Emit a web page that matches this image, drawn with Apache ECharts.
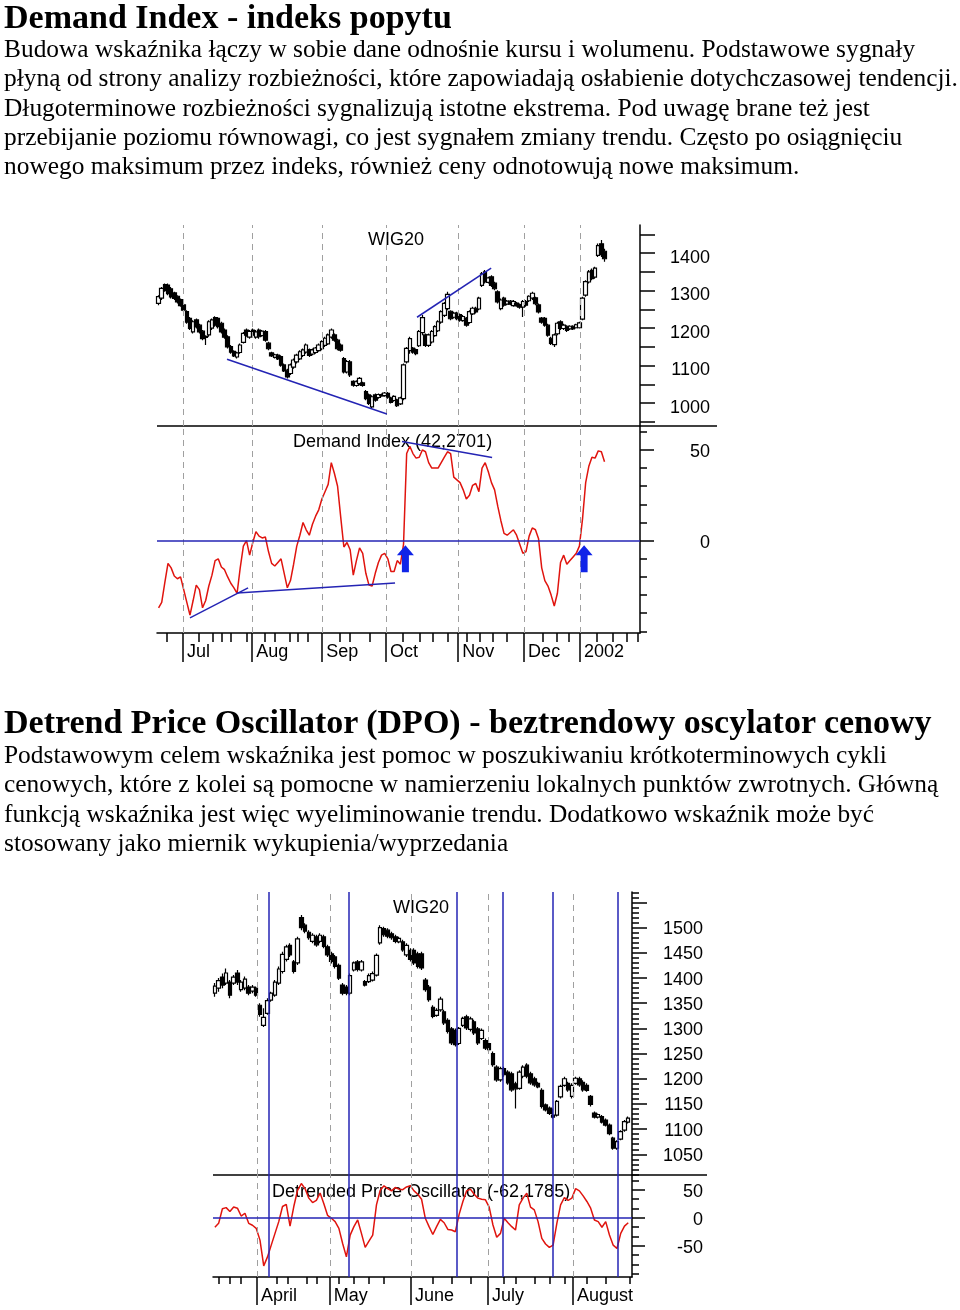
<!DOCTYPE html>
<html><head><meta charset="utf-8">
<script src="https://cdn.jsdelivr.net/npm/echarts@6/dist/echarts.min.js"></script>
<style>
html,body{margin:0;padding:0;background:#fff;}
#wrap{position:relative;width:960px;height:1310px;overflow:hidden;}
#chart{position:absolute;left:0;top:0;width:960px;height:1310px;z-index:1;}
.t{position:absolute;left:4px;font-family:"Liberation Serif","Times New Roman",serif;color:#000;white-space:nowrap;z-index:2;pointer-events:none;}
.h{font-size:34px;font-weight:bold;line-height:36px;}
.p{font-size:25.4px;line-height:29.25px;}
</style></head>
<body><div id="wrap">
<div id="chart"></div>
<div class="t h" style="top:-1px">Demand Index - indeks popytu</div>
<div class="t p" style="top:34px">Budowa wskaźnika łączy w sobie dane odnośnie kursu i wolumenu. Podstawowe sygnały<br>płyną od strony analizy rozbieżności, które zapowiadają osłabienie dotychczasowej tendencji.<br>Długoterminowe rozbieżności sygnalizują istotne ekstrema. Pod uwagę brane też jest<br>przebijanie poziomu równowagi, co jest sygnałem zmiany trendu. Często po osiągnięciu<br>nowego maksimum przez indeks, również ceny odnotowują nowe maksimum.</div>
<div class="t h" style="top:704px">Detrend Price Oscillator (DPO) - beztrendowy oscylator cenowy</div>
<div class="t p" style="top:740px">Podstawowym celem wskaźnika jest pomoc w poszukiwaniu krótkoterminowych cykli<br>cenowych, które z kolei są pomocne w namierzeniu lokalnych punktów zwrotnych. Główną<br>funkcją wskaźnika jest więc wyeliminowanie trendu. Dodatkowo wskaźnik może być<br>stosowany jako miernik wykupienia/wyprzedania</div>
</div>
<script>
// ---------- Chart 1: WIG20 + Demand Index (Jun 2001 - Jan 2002) ----------
// rows: [open, close, low, high]
const wig1 = [
[1266,1284,1261,1288],[1280,1306,1275,1310],[1316,1300,1297,1319],[1315,1292,1288,1319],[1305,1283,1279,1310],
[1294,1279,1275,1297],[1285,1270,1266,1288],[1276,1260,1257,1279],[1262,1248,1244,1266],[1244,1216,1212,1248],
[1226,1199,1195,1230],[1190,1217,1186,1221],[1222,1203,1199,1226],[1208,1190,1186,1212],[1192,1172,1168,1195],
[1178,1175,1155,1181],[1182,1217,1177,1221],[1200,1222,1195,1226],[1228,1208,1204,1232],[1226,1204,1199,1230],
[1213,1190,1186,1217],[1195,1176,1172,1199],[1177,1150,1146,1181],[1151,1136,1132,1155],[1138,1126,1123,1141],
[1123,1134,1119,1137],[1135,1155,1132,1159],[1162,1186,1159,1190],[1195,1181,1177,1199],[1176,1191,1172,1195],
[1195,1181,1177,1199],[1176,1190,1172,1195],[1195,1177,1172,1199],[1180,1192,1177,1195],[1191,1168,1164,1195],
[1160,1145,1141,1164],[1134,1126,1123,1137],[1122,1129,1119,1132],[1128,1118,1115,1132],[1124,1101,1097,1128],
[1102,1086,1083,1106],[1088,1070,1066,1092],[1079,1102,1075,1106],[1096,1115,1092,1119],[1110,1128,1106,1132],
[1118,1137,1115,1141],[1127,1142,1123,1146],[1136,1155,1132,1159],[1143,1127,1123,1146],[1131,1142,1128,1146],
[1135,1147,1132,1150],[1140,1155,1137,1159],[1145,1164,1141,1168],[1154,1173,1150,1177],[1158,1182,1155,1186],
[1176,1195,1172,1199],[1182,1168,1164,1186],[1168,1145,1141,1172],[1155,1141,1137,1159],[1119,1083,1079,1123],
[1083,1111,1079,1115],[1110,1075,1070,1115],[1058,1048,1044,1061],[1047,1057,1044,1061],[1052,1066,1048,1070],
[1054,1047,1044,1057],[1031,1012,1008,1035],[1022,999,995,1026],[990,1017,986,1021],[1022,1008,1004,1026],
[1015,1023,1012,1026],[1023,1019,1017,1026],[1020,1027,1017,1030],[1026,1016,1012,1030],[1014,1002,999,1017],
[1007,1018,1004,1021],[1009,993,990,1012],[998,1014,995,1017],[1012,1102,1008,1106],[1110,1146,1106,1150],
[1140,1172,1132,1177],[1147,1136,1132,1150],[1143,1132,1128,1146],[1153,1191,1150,1195],[1188,1228,1181,1235],
[1182,1154,1150,1186],[1154,1182,1150,1186],[1163,1191,1159,1195],[1180,1204,1177,1208],[1193,1217,1190,1221],
[1216,1244,1212,1248],[1234,1266,1230,1270],[1252,1290,1248,1297],[1245,1225,1221,1248],[1229,1240,1226,1244],
[1240,1225,1221,1244],[1236,1221,1217,1239],[1220,1231,1217,1235],[1227,1208,1204,1230],[1215,1244,1212,1248],
[1238,1253,1235,1257],[1253,1243,1239,1257],[1251,1280,1248,1284],[1314,1345,1310,1350],[1350,1323,1319,1355],
[1322,1334,1319,1337],[1337,1314,1310,1341],[1320,1305,1301,1324],[1297,1270,1266,1301],[1252,1275,1248,1279],
[1280,1261,1257,1284],[1264,1272,1261,1275],[1272,1264,1261,1275],[1260,1271,1257,1275],[1267,1260,1257,1270],
[1263,1256,1252,1266],[1256,1271,1230,1275],[1271,1261,1257,1275],[1273,1285,1270,1288],[1280,1293,1275,1297],
[1281,1265,1261,1284],[1262,1243,1239,1266],[1227,1216,1212,1230],[1226,1208,1204,1230],[1208,1181,1177,1212],
[1173,1159,1155,1177],[1156,1182,1150,1186],[1185,1213,1181,1217],[1217,1199,1195,1221],[1199,1208,1195,1212],
[1205,1194,1190,1208],[1198,1205,1195,1208],[1205,1198,1195,1208],[1201,1209,1199,1212],[1201,1214,1199,1217],
[1224,1280,1221,1284],[1288,1324,1284,1328],[1323,1350,1319,1355],[1354,1332,1328,1359],[1336,1360,1332,1364],
[1394,1420,1390,1426],[1425,1396,1390,1435],[1405,1385,1377,1412]
];
const demandIndex = [
-37,-34,-23,-12.5,-15,-19.5,-21,-20,-27,-34,
-41,-33,-24.5,-27,-37,-33,-25,-19,-11,-10,
-14.5,-16,-20,-23.5,-26,-29,-15,-3,0,-8,
-1,5,2.5,1.5,2,-6,-12.5,-14,-12,-10,
-18,-26,-22,-13,-3,3,10,6,3,9,
13.5,17,23,27,31,43,37,30,13,-3.5,
-1,-5,-19,-11,-4,-7,-18,-24.5,-25,-18,
-12,-8,-7,-10,-17,-17,-11,-13,-2,48,
52,48,45.5,46,50,49,43,40,40,40,
43,46,49,48,35,33.5,32,28,23,25,
30.5,31.5,27,40,43,38,32,28,19,11,
4,3,4.5,6,3,-2,-7,-6,2.5,7,
6,1,-15,-22,-25,-30,-36,-29,-12,-8,
-13,-11,-9,-7,-3,12,32,41,46,45.5,
49.5,49,43.5
];
const months1 = ['Jul','Aug','Sep','Oct','Nov','Dec','2002'];
const monthPos1 = [7.8,29.8,52.1,72.4,95.4,116.4,134.2];
const weekPos1 = [2.7,12.9,17.3,20.2,23.1,28.2,33.9,37.1,41.9,44.4,47.6,57.8,61,67.3,77.8,83.3,87.4,92.2,98.2,102.4,106.5,111,122.4,126.9,130.7,139.6,144.7,149.2,152.7];
const priceTicks1 = [950,1000,1050,1100,1150,1200,1250,1300,1350,1400,1450];
const priceLabels1 = [1000,1100,1200,1300,1400];
const diTicks = [-50,-40,-30,-20,-10,0,10,20,30,40,50,60];
const diMajor = [0,50];
const priceTrend1 = [[[21.8,1117],[72.7,971]],[[82.3,1229],[105.9,1360]]];
const diTrend = [[[10,-42.6],[28.5,-26]],[[25,-28.8],[75.3,-23.3]],[[77.5,54.6],[106.2,45.8]]];
const diArrows = [[78.6,-10],[135.5,-10]];

// ---------- Chart 2: WIG20 + Detrended Price Oscillator (Mar - Aug 2002) ----------
const wig2 = [
[1370,1384,1363,1390],[1380,1395,1373,1400],[1402,1386,1380,1409],[1390,1410,1386,1419],[1392,1366,1360,1396],
[1390,1402,1386,1406],[1410,1392,1386,1416],[1377,1392,1373,1396],[1380,1398,1376,1403],[1382,1370,1366,1386],
[1374,1382,1370,1386],[1380,1366,1363,1383],[1346,1328,1323,1350],[1306,1322,1303,1340],[1330,1355,1327,1360],
[1356,1370,1353,1373],[1366,1392,1363,1396],[1390,1418,1386,1423],[1413,1447,1409,1452],[1437,1462,1433,1466],
[1465,1446,1442,1469],[1432,1413,1409,1436],[1430,1478,1426,1482],[1520,1500,1495,1525],[1505,1493,1489,1509],
[1491,1480,1476,1495],[1473,1485,1469,1489],[1482,1466,1462,1486],[1473,1485,1469,1489],[1482,1463,1459,1486],
[1462,1446,1442,1466],[1448,1433,1429,1452],[1442,1423,1419,1446],[1425,1400,1396,1429],[1386,1370,1366,1390],
[1382,1370,1366,1386],[1370,1405,1366,1409],[1416,1430,1413,1433],[1432,1417,1413,1436],[1416,1432,1413,1436],
[1393,1386,1383,1396],[1393,1405,1390,1409],[1396,1409,1393,1413],[1406,1445,1403,1449],[1470,1500,1466,1505],
[1498,1486,1482,1502],[1495,1483,1479,1499],[1488,1480,1476,1492],[1482,1473,1469,1486],[1472,1479,1469,1482],
[1472,1456,1452,1476],[1446,1465,1442,1469],[1455,1437,1433,1459],[1455,1430,1426,1459],[1448,1423,1419,1452],
[1448,1420,1416,1452],[1396,1377,1373,1400],[1382,1357,1353,1386],[1342,1324,1320,1346],[1326,1336,1323,1340],
[1337,1358,1333,1363],[1333,1311,1307,1337],[1316,1294,1290,1320],[1299,1271,1267,1303],[1296,1268,1264,1300],
[1270,1300,1267,1303],[1306,1320,1303,1323],[1323,1301,1297,1327],[1298,1319,1294,1323],[1313,1291,1287,1317],
[1299,1271,1267,1303],[1280,1296,1277,1300],[1276,1261,1257,1280],[1270,1258,1254,1274],[1250,1228,1224,1254],
[1223,1198,1194,1227],[1198,1220,1194,1224],[1220,1208,1204,1224],[1213,1192,1188,1217],[1210,1178,1174,1214],
[1190,1180,1141,1194],[1181,1213,1178,1217],[1205,1223,1201,1227],[1227,1205,1201,1231],[1210,1192,1188,1214],
[1200,1188,1184,1204],[1191,1184,1181,1194],[1177,1145,1141,1181],[1148,1138,1135,1151],[1142,1131,1128,1145],
[1128,1124,1121,1141],[1128,1155,1125,1158],[1164,1185,1161,1188],[1187,1200,1184,1204],[1191,1178,1174,1194],
[1165,1187,1161,1191],[1191,1201,1188,1204],[1200,1188,1184,1204],[1193,1178,1174,1197],[1187,1177,1174,1191],
[1165,1149,1145,1168],[1132,1124,1121,1135],[1124,1129,1121,1131],[1125,1114,1111,1128],[1118,1108,1105,1121],
[1108,1091,1088,1111],[1082,1062,1059,1085],[1062,1075,1059,1078],[1080,1095,1078,1098],[1098,1115,1095,1118],
[1114,1122,1111,1125]
];
const dpo = [
-17,-10,16,18,11,19,17,3,8,-10,
-13.5,-19,-40,-86,-70,-49,-28,-7,20,24,
-15,20,49,61,52,35,27,31,44,25,
4,-1,-7,-19,-46,-70,-31,-16,-4,-28,
-53,-42,-31,23,49,57,52,48,54,51,
50,55,57,48,42,33,-1,-16,-30,-16,
-3,-9,-21,-22,-25,6,29,48,51,42,
35,33,32,19,-13,-35,-28,-1,-9,-16,
-22,23,35,44,19,14,-7,-37,-47,-53,
-49,-10,23,36,31,35,52,48,39,29,
17,-4,-7,-17,-7,-31,-49,-55,-28,-15,-9
];
const months2 = ['April','May','June','July','August'];
const monthPos2 = [11.2,30.6,52.2,72.7,95.3];
const weekPos2 = [1,4,7,16.5,19.5,24.5,27,33,37,41,45,58,63,68,77,80,85,89,93,99,104,110.5];
const cycles2 = [14.4,35.7,64.4,76.7,89.9,107.2];
const priceLabels2 = [1050,1100,1150,1200,1250,1300,1350,1400,1450,1500];
const priceMajor2 = [1050,1100,1150,1200,1250,1300,1350,1400,1450,1500,1550];
const priceMinor2 = [];
for (let v = 1010; v <= 1570; v += 10) priceMinor2.push(v);
const dpoTicks = [-100,-83.33,-66.67,-50,-33.33,-16.67,0,16.67,33.33,50,66.67];
const dpoMajor = [-50,0,50];

// ---------- styling ----------
const FONT = '"Liberation Sans", Arial, sans-serif';
const BLACK = {color:'#000', width:1.5};
const DASH = {type:[6,5], color:'#a0a0a0', width:1};
const BLUE = {type:'solid', color:'#2424b4', width:1.5};
const RED = '#e0140e';

function vLines(pos, style){ return pos.map(v => ({xAxis:v, lineStyle:style})); }
function segs(list, style){ return list.map(s => [{coord:s[0], lineStyle:style},{coord:s[1]}]); }
function mk(data){ return {silent:true, symbol:['none','none'], label:{show:false}, animation:false, emphasis:{disabled:true}, data:data}; }

function xHidden(g,min,max){ return {type:'value', gridIndex:g, min:min, max:max, show:false, position:'bottom'}; }
function xWeeks(g,min,max,pos,len){
  return {type:'value', gridIndex:g, min:min, max:max, position:'bottom',
    axisLine:{show:true, onZero:false, lineStyle:BLACK},
    axisTick:{show:true, customValues:pos, length:len, lineStyle:BLACK},
    axisLabel:{show:false}, splitLine:{show:false}};
}
function xMonths(g,min,max,pos,names,len){
  return {type:'value', gridIndex:g, min:min, max:max, position:'bottom',
    axisLine:{show:false, onZero:false},
    axisTick:{show:true, customValues:pos, length:len, lineStyle:BLACK},
    axisLabel:{show:true, customValues:pos, formatter:(v)=>names[pos.indexOf(v)],
      align:'left', margin:10, padding:[0,0,0,4], fontSize:18, fontFamily:FONT, color:'#000'},
    splitLine:{show:false}};
}
// labels: values shown; shift: small downward nudge of the label (in axis units); step: rounding step for the shown text
function yAx(g,min,max,ticks,tlen,labels,margin,showLine,shift,step){
  const lv = labels ? labels.map(v => v - (shift||0)) : null;
  return {type:'value', gridIndex:g, min:min, max:max, position:'right', offset:0,
    axisLine:{show:showLine, onZero:false, lineStyle:BLACK},
    axisTick:{show:true, customValues:ticks, length:tlen, lineStyle:BLACK},
    axisLabel: labels ? {show:true, customValues:lv, align:'right', margin:margin,
      formatter:(v)=>String(Math.round(v/step)*step),
      fontSize:18, fontFamily:FONT, color:'#000'} : {show:false},
    splitLine:{show:false}};
}

const X1 = [-0.5,153.3];
const X2 = [-0.5,111];

const option = {
  animation:false,
  backgroundColor:'transparent',
  grid:[
    {left:157, top:225, width:483, height:201, containLabel:false, outerBoundsMode:'none'},
    {left:157, top:426, width:483, height:207, containLabel:false, outerBoundsMode:'none'},
    {left:213, top:892, width:419, height:283, containLabel:false, outerBoundsMode:'none'},
    {left:213, top:1175, width:419, height:102, containLabel:false, outerBoundsMode:'none'}
  ],
  xAxis:[
    xHidden(0,X1[0],X1[1]),
    xWeeks(1,X1[0],X1[1],weekPos1,9),
    xMonths(1,X1[0],X1[1],monthPos1,months1,29),
    xHidden(2,X2[0],X2[1]),
    xWeeks(3,X2[0],X2[1],weekPos2,7),
    xMonths(3,X2[0],X2[1],monthPos2,months2,28)
  ],
  yAxis:[
    yAx(0,939,1475,priceTicks1,15,priceLabels1,70,true,12,100),
    yAx(1,-50.9,63.2,diTicks,7,diMajor,70,true,1.2,50),
    yAx(1,-50.9,63.2,diMajor,14,null,0,false),
    yAx(2,1008.9,1570.9,priceMinor2,7,priceLabels2,71,true,3,50),
    yAx(2,1008.9,1570.9,priceMajor2,15,null,0,false),
    yAx(3,-105.9,76.3,dpoTicks,7,dpoMajor,71,true,3.5,50),
    yAx(3,-105.9,76.3,dpoMajor,13,null,0,false)
  ],
  series:[
    {type:'candlestick', name:'WIG20', xAxisIndex:0, yAxisIndex:0,
      data: wig1.map((d,i)=>[i,d[0],d[1],d[2],d[3]]), encode:{x:0, y:[1,2,3,4]},
      barWidth:4, itemStyle:{color:'#fff', color0:'#000', borderColor:'#000', borderColor0:'#000', borderWidth:1.2},
      markLine: mk(vLines(monthPos1,DASH).concat(segs(priceTrend1,BLUE)))},
    {type:'line', name:'Demand Index', xAxisIndex:1, yAxisIndex:1,
      data: demandIndex.map((v,i)=>[i,v]), showSymbol:false, symbol:'none',
      lineStyle:{color:RED, width:1.5},
      markLine: mk(vLines(monthPos1,DASH).concat([{yAxis:0, lineStyle:BLUE}]).concat(segs(diTrend,BLUE)))},
    {type:'scatter', name:'signal', xAxisIndex:1, yAxisIndex:1, data: diArrows,
      symbol:'path://M8.5,0L17,10L12,10L12,27L5,27L5,10L0,10Z', symbolSize:[17,27],
      itemStyle:{color:'#1024e8', opacity:1}, z:5},
    {type:'candlestick', name:'WIG20 2002', xAxisIndex:3, yAxisIndex:3,
      data: wig2.map((d,i)=>[i,d[0],d[1],d[2],d[3]]), encode:{x:0, y:[1,2,3,4]},
      barWidth:4, itemStyle:{color:'#fff', color0:'#000', borderColor:'#000', borderColor0:'#000', borderWidth:1.2},
      markLine: mk(vLines(monthPos2,DASH).concat(vLines(cycles2,BLUE)))},
    {type:'line', name:'DPO', xAxisIndex:4, yAxisIndex:5,
      data: dpo.map((v,i)=>[i,v]), showSymbol:false, symbol:'none',
      lineStyle:{color:RED, width:1.5},
      markLine: mk(vLines(monthPos2,DASH).concat(vLines(cycles2,BLUE)).concat([{yAxis:0, lineStyle:BLUE}]))}
  ],
  graphic:[
    {type:'line', shape:{x1:157, y1:426, x2:717, y2:426}, style:{stroke:'#000', lineWidth:1.5}, silent:true},
    {type:'line', shape:{x1:213, y1:1175, x2:707, y2:1175}, style:{stroke:'#000', lineWidth:1.5}, silent:true},
    {type:'text', x:368, y:240, silent:true, style:{text:'WIG20', fontSize:18, fontFamily:FONT, fill:'#000', verticalAlign:'middle'}},
    {type:'text', x:293, y:442, silent:true, style:{text:'Demand Index (42,2701)', fontSize:18, fontFamily:FONT, fill:'#000', verticalAlign:'middle'}},
    {type:'text', x:393, y:908, silent:true, style:{text:'WIG20', fontSize:18, fontFamily:FONT, fill:'#000', verticalAlign:'middle'}},
    {type:'text', x:272, y:1192, silent:true, style:{text:'Detrended Price Oscillator (-62,1785)', fontSize:18, fontFamily:FONT, fill:'#000', verticalAlign:'middle'}}
  ]
};

const chart = echarts.init(document.getElementById('chart'), null, {renderer:'canvas'});
chart.setOption(option);
</script>
</body></html>
